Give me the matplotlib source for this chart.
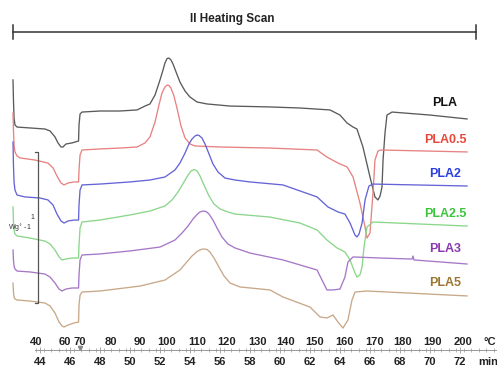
import matplotlib
matplotlib.use("Agg")
import matplotlib.pyplot as plt
from matplotlib.ticker import FixedLocator

plt.rcParams['font.family'] = ['Liberation Sans', 'DejaVu Sans']

# time axis (min) and heat flow (W/g, curves stacked with offsets)
pla_t = [42.2, 42.23, 42.27, 42.33, 42.47, 43.33, 44.33, 44.67, 45.0, 45.2, 45.4, 45.53, 45.73, 46.13, 46.57,
         46.6, 46.67, 46.8, 48.0, 49.33, 50.47, 51.0, 51.33, 51.67, 52.0, 52.2, 52.33, 52.47, 52.6, 52.73,
         52.87, 53.07, 53.33, 53.67, 54.0, 54.47, 55.13, 56.67, 59.33, 61.33, 63.33, 64.0, 64.47, 64.87, 65.13,
         65.53, 66.0, 66.33, 66.53, 66.67, 66.8, 66.87, 67.0, 67.13, 67.47, 70.0, 72.47]
pla_q = [1.667, 1.533, 1.413, 1.367, 1.353, 1.347, 1.34, 1.327, 1.287, 1.247, 1.22, 1.22, 1.24, 1.247, 1.26,
         1.367, 1.44, 1.453, 1.46, 1.46, 1.467, 1.493, 1.507, 1.567, 1.667, 1.733, 1.78, 1.81, 1.813, 1.8,
         1.773, 1.72, 1.653, 1.593, 1.553, 1.52, 1.507, 1.493, 1.487, 1.48, 1.467, 1.433, 1.38, 1.353, 1.34,
         1.22, 1.02, 0.887, 0.867, 0.893, 0.953, 1.133, 1.313, 1.433, 1.453, 1.433, 1.407]

pla05_t = [42.2, 42.23, 42.27, 42.33, 42.47, 42.67, 43.67, 44.53, 44.87, 45.13, 45.4, 45.6, 45.87, 46.27, 46.57,
           46.6, 46.67, 46.8, 48.0, 49.33, 50.47, 51.0, 51.33, 51.67, 51.93, 52.13, 52.33, 52.47, 52.6, 52.73,
           52.93, 53.13, 53.4, 53.67, 54.0, 54.33, 56.0, 59.33, 62.47, 63.13, 63.87, 64.47, 64.87, 65.33, 65.67,
           65.8, 66.0, 66.2, 66.33, 66.53, 66.73, 72.47]
pla05_q = [1.447, 1.333, 1.233, 1.187, 1.16, 1.147, 1.133, 1.113, 1.08, 1.027, 0.98, 0.967, 0.98, 0.987, 0.987,
           1.067, 1.167, 1.2, 1.207, 1.213, 1.22, 1.247, 1.287, 1.387, 1.5, 1.58, 1.62, 1.633, 1.63, 1.613,
           1.56, 1.48, 1.36, 1.28, 1.24, 1.227, 1.22, 1.213, 1.2, 1.153, 1.113, 1.087, 1.02, 0.847, 0.687,
           0.613, 0.647, 0.913, 1.133, 1.193, 1.2, 1.187]

pla2_t = [42.2, 42.23, 42.27, 42.33, 42.47, 43.0, 44.0, 44.53, 44.87, 45.13, 45.4, 45.6, 45.87, 46.27, 46.57,
          46.6, 46.67, 46.8, 48.0, 50.0, 51.33, 52.33, 53.0, 53.33, 53.67, 53.93, 54.13, 54.33, 54.47, 54.6,
          54.8, 55.0, 55.27, 55.53, 55.87, 56.33, 57.0, 58.0, 60.2, 62.47, 63.2, 63.87, 64.33, 64.67, 65.0,
          65.13, 65.27, 65.47, 65.67, 65.93, 66.2, 72.47]
pla2_q = [1.253, 1.1, 0.987, 0.933, 0.9, 0.887, 0.88, 0.867, 0.833, 0.773, 0.727, 0.713, 0.727, 0.733, 0.733,
          0.833, 0.933, 0.967, 0.973, 0.987, 1.0, 1.02, 1.067, 1.113, 1.18, 1.24, 1.273, 1.293, 1.3, 1.297,
          1.28, 1.24, 1.173, 1.107, 1.053, 1.013, 1.0, 0.987, 0.967, 0.887, 0.82, 0.787, 0.773, 0.713, 0.633,
          0.62, 0.64, 0.713, 0.867, 0.96, 0.973, 0.96]

pla25_t = [42.2, 42.23, 42.27, 42.33, 42.47, 43.33, 44.33, 44.67, 45.0, 45.27, 45.47, 45.73, 46.13, 46.57, 46.6,
           46.67, 46.8, 48.0, 50.0, 51.33, 52.33, 52.8, 53.2, 53.6, 53.87, 54.07, 54.27, 54.47, 54.67, 54.93,
           55.27, 55.6, 56.0, 56.53, 57.0, 59.33, 61.33, 62.47, 63.13, 63.8, 64.33, 64.67, 65.0, 65.13, 65.33,
           65.47, 65.6, 65.8, 66.2, 72.47]
pla25_q = [0.82, 0.72, 0.667, 0.64, 0.627, 0.613, 0.593, 0.573, 0.533, 0.487, 0.467, 0.473, 0.48, 0.48, 0.567,
           0.68, 0.72, 0.733, 0.767, 0.793, 0.827, 0.867, 0.92, 0.987, 1.033, 1.06, 1.07, 1.06, 1.027, 0.967,
           0.893, 0.84, 0.807, 0.787, 0.773, 0.753, 0.713, 0.667, 0.6, 0.547, 0.52, 0.467, 0.38, 0.353, 0.367,
           0.42, 0.553, 0.687, 0.72, 0.693]

pla3_t = [42.2, 42.23, 42.27, 42.33, 42.47, 43.33, 44.33, 44.67, 45.0, 45.27, 45.47, 45.73, 46.13, 46.57, 46.6,
          46.67, 46.8, 48.0, 50.0, 52.0, 53.0, 53.47, 53.87, 54.2, 54.47, 54.67, 54.87, 55.07, 55.27, 55.53,
          55.8, 56.13, 56.53, 57.0, 58.0, 60.2, 62.47, 62.8, 63.13, 63.53, 64.0, 64.33, 64.53, 64.87, 66.67,
          68.8, 68.87, 68.93, 72.47]
pla3_q = [0.533, 0.467, 0.427, 0.407, 0.393, 0.387, 0.373, 0.353, 0.313, 0.273, 0.26, 0.273, 0.28, 0.28, 0.367,
          0.467, 0.5, 0.507, 0.527, 0.553, 0.6, 0.647, 0.693, 0.74, 0.77, 0.787, 0.793, 0.79, 0.773, 0.733,
          0.68, 0.62, 0.573, 0.547, 0.513, 0.467, 0.4, 0.333, 0.267, 0.267, 0.273, 0.353, 0.453, 0.487, 0.48,
          0.473, 0.493, 0.467, 0.44]

pla5_t = [42.2, 42.23, 42.27, 42.33, 42.47, 43.33, 44.33, 44.67, 45.0, 45.27, 45.47, 45.6, 45.87, 46.27, 46.57,
          46.6, 46.67, 46.8, 48.0, 50.67, 52.33, 53.33, 53.73, 54.13, 54.47, 54.73, 54.93, 55.13, 55.33, 55.6,
          55.93, 56.27, 56.67, 57.33, 59.33, 60.2, 62.0, 62.67, 63.13, 63.53, 63.87, 64.2, 64.53, 64.8, 65.0,
          65.8, 72.47]
pla5_q = [0.313, 0.253, 0.22, 0.207, 0.2, 0.193, 0.18, 0.16, 0.113, 0.053, 0.027, 0.02, 0.033, 0.047, 0.053,
          0.167, 0.233, 0.253, 0.26, 0.293, 0.333, 0.4, 0.447, 0.493, 0.523, 0.537, 0.54, 0.537, 0.52, 0.48,
          0.42, 0.36, 0.313, 0.287, 0.267, 0.22, 0.153, 0.087, 0.08, 0.1, 0.053, 0.013, 0.067, 0.2, 0.253,
          0.26, 0.227]

names = ['PLA', 'PLA0.5', 'PLA2', 'PLA2.5', 'PLA3', 'PLA5']
label_t = [71.0, 71.0, 71.0, 71.0, 71.0, 71.0]
label_q = [1.513, 1.267, 1.04, 0.773, 0.54, 0.313]

min_ticks = [44, 46, 48, 50, 52, 54, 56, 58, 60, 62, 64, 66, 68, 70, 72]
temp_labels = ['40', '60', '70', '80', '90', '100', '110', '120', '130', '140', '150', '160', '170', '180', '190', '200']
temp_label_t = [43.73, 45.67, 46.67, 48.73, 50.67, 52.47, 54.47, 56.47, 58.47, 60.4, 62.33, 64.33, 66.33, 68.2, 70.2, 72.2]

curve_colors = ['#5a5a5a', '#e88282', '#6464d6', '#8ad68a', '#a678c8', '#c8a888']
text_colors = ['#111111', '#e8483a', '#2c3fe0', '#3cc43c', '#8a3ab0', '#9c7630']

fig = plt.figure(figsize=(4.97, 3.69), dpi=100)
ax = fig.add_axes([0, 0, 1, 1])
ax.set_xlim(41.333, 74.467)
ax.set_ylim(-0.26, 2.2)

curves = [(pla_t, pla_q), (pla05_t, pla05_q), (pla2_t, pla2_q),
          (pla25_t, pla25_q), (pla3_t, pla3_q), (pla5_t, pla5_q)]
for (t, q), c in zip(curves, curve_colors):
    ax.plot(t, q, color=c, lw=0.95, solid_joinstyle='round')

for n, x, y, c in zip(names, label_t, label_q, text_colors):
    ax.text(x, y, n, color=c, fontsize=9, fontweight='bold', ha='center', va='center')

# scan bracket + title
ax.plot([42.2, 73.07], [1.987, 1.987], color='#333333', lw=1.1)
ax.plot([42.2, 42.2], [1.94, 2.033], color='#333333', lw=1.1)
ax.plot([73.07, 73.07], [1.94, 2.033], color='#333333', lw=1.1)
ax.text(56.8, 2.073, 'II Heating Scan', fontsize=8.5, fontweight='bold', ha='center', va='center', color='#222222')

# 1 W/g scale bar
ax.plot([43.67, 43.87, 43.87, 43.67], [1.187, 1.187, 0.18, 0.18], color='#555555', lw=0.9)
ax.text(43.47, 0.747, '1', fontsize=5, ha='center', va='center', color='#333333')
ax.text(42.67, 0.68, 'Wg$^{\\circ}$ -1', fontsize=5, ha='center', va='center', color='#333333')

# time / temperature ruler
for s in ['left', 'right', 'top']:
    ax.spines[s].set_visible(False)
ax.spines['bottom'].set_position(('data', -0.133))
ax.spines['bottom'].set_bounds(43.67, 74.467)
ax.spines['bottom'].set_color('#999999')
ax.spines['bottom'].set_linewidth(0.7)
ax.set_yticks([])
ax.set_xticks(min_ticks)
ax.set_xticklabels([str(m) for m in min_ticks], fontweight='bold')
ax.xaxis.set_minor_locator(FixedLocator([43.75 + 0.5 * i for i in range(62)]))
ax.tick_params(axis='x', which='major', direction='inout', length=4, width=0.6, color='#999999',
               labelsize=8, labelcolor='#222222', pad=3)
ax.tick_params(axis='x', which='minor', direction='inout', length=2.5, width=0.5, color='#999999')
ax.text(73.87, -0.212, 'min', fontsize=8, fontweight='bold', ha='center', va='center', color='#222222')
for lab, x in zip(temp_labels, temp_label_t):
    ax.text(x, -0.08, lab, fontsize=8, fontweight='bold', ha='center', va='center', color='#222222')
ax.text(74.0, -0.08, '°C', fontsize=8, fontweight='bold', ha='center', va='center', color='#222222')
ax.plot([46.67], [-0.12], marker='v', ms=3, color='#888888')

fig.savefig('out.png', dpi=100)
